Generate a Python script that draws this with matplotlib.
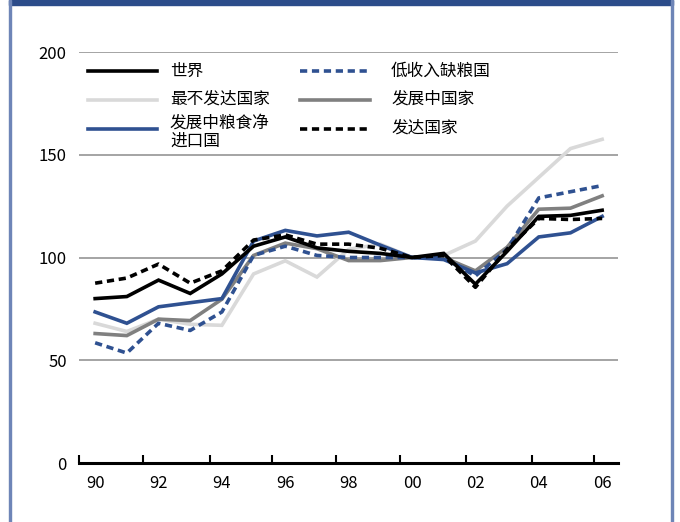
import matplotlib
matplotlib.use("Agg")
import matplotlib.pyplot as plt
from matplotlib.patches import Rectangle

plt.rcParams['font.family'] = ['Noto Sans CJK SC', 'DejaVu Sans']

years = list(range(1990, 2007))
xtick_years = [1990, 1992, 1994, 1996, 1998, 2000, 2002, 2004, 2006]
xtick_labels = ['90', '92', '94', '96', '98', '00', '02', '04', '06']
yticks = [0, 50, 100, 150, 200]

world = [80, 81, 89, 82.5, 92, 105.5, 110, 104.7, 103, 102, 100, 102, 87, 103, 120, 120.5, 123]
ldc = [68, 64, 70, 67.5, 67, 92, 98.4, 90.5, 104, 106.5, 100, 101, 108, 125, 139, 153, 157.5]
nfidc = [73.5, 68, 76, 78, 80, 108, 113.2, 110.5, 112.3, 106, 100, 99, 92.5, 97, 110, 112, 120]
lifdc = [58.5, 53.5, 68, 64.5, 73.5, 101, 105.5, 101, 100, 100, 100, 100, 91, 104, 129, 132, 135]
developing = [63, 62, 70, 69.3, 79.7, 101, 107, 104.3, 98.5, 98.5, 100, 100, 93.5, 105, 123.5, 124, 130]
developed = [87.5, 90, 96.8, 87.5, 93.5, 108.5, 111, 106.5, 106.5, 104.5, 100, 101, 85.5, 104, 119, 118.5, 119]

labels = ['世界', '最不发达国家', '发展中粮食净\n进口国', '低收入缺粮国', '发展中国家', '发达国家']

BLUE = '#2F5191'
LGRAY = '#D9D9D9'
MGRAY = '#808080'

fig = plt.figure(figsize=(6.8, 5.22), dpi=100)
AX_L, AX_R, AX_T, AX_B = 79.3, 618.0, 52.0, 463.0
ax = fig.add_axes([AX_L / 680, 1 - AX_B / 522, (AX_R - AX_L) / 680, (AX_B - AX_T) / 522])

lw = 2.6
dash = (2.0, 1.3)
styles = {
    'world': dict(color='black', lw=lw, solid_joinstyle='miter'),
    'ldc': dict(color=LGRAY, lw=lw, solid_joinstyle='miter'),
    'nfidc': dict(color=BLUE, lw=lw, solid_joinstyle='miter'),
    'lifdc': dict(color=BLUE, lw=lw, dashes=dash),
    'developing': dict(color=MGRAY, lw=lw, solid_joinstyle='miter'),
    'developed': dict(color='black', lw=lw, dashes=dash),
}
ax.plot(years, ldc, **styles['ldc'])
ax.plot(years, developing, **styles['developing'])
ax.plot(years, nfidc, **styles['nfidc'])
ax.plot(years, lifdc, **styles['lifdc'])
ax.plot(years, developed, **styles['developed'])
ax.plot(years, world, **styles['world'])

ax.set_xlim(1989.5, 2006.5)
ax.set_ylim(0, 200)
ax.set_yticks(yticks)
ax.set_yticklabels([str(v) for v in yticks])
ax.set_xticks(xtick_years)
ax.set_xticklabels(xtick_labels)
tick_marks = [1989.5, 1991.5, 1993.63, 1995.58, 1997.6, 1999.62, 2001.69, 2003.78, 2005.74]
ax.set_xticks(tick_marks, minor=True)
ax.tick_params(axis='x', which='major', length=0, pad=9, labelsize=12)
ax.tick_params(axis='x', which='minor', direction='in', length=6, width=1.5, color='black')
ax.tick_params(axis='y', length=0, pad=9, labelsize=12)

for v in yticks[1:]:
    ax.axhline(v, color='#8C8C8C', lw=1.1, zorder=0)

for s in ['top', 'right', 'left']:
    ax.spines[s].set_visible(False)
ax.spines['bottom'].set_linewidth(2.2)
ax.spines['bottom'].set_color('black')

# manual legend in axes coordinates (pixel layout of the reference)
W = AX_R - AX_L
H = AX_B - AX_T
def axx(px):
    return (px - AX_L) / W
def axy(py):
    return (AX_B - py) / H

legend_items = [
    (labels[0], 'world', 88, 157, 170, 71),
    (labels[1], 'ldc', 88, 157, 170, 99.5),
    (labels[2], 'nfidc', 88, 157, 170, 128.5),
    (labels[3], 'lifdc', 300, 370, 391, 71),
    (labels[4], 'developing', 300, 370, 391, 99.5),
    (labels[5], 'developed', 300, 370, 391, 128.5),
]
for text, key, x0, x1, tx, py in legend_items:
    ax.plot([axx(x0), axx(x1)], [axy(py), axy(py)], transform=ax.transAxes,
            clip_on=False, **styles[key])
    ty = py + 3.5 if '\n' in text else py
    ax.text(axx(tx), axy(ty), text, transform=ax.transAxes, fontsize=12,
            va='center', ha='left', linespacing=1.05)

# frame decorations
fig.patches.append(Rectangle((9/680, 1 - 5/522), 664/680, 5/522, transform=fig.transFigure,
                             color='#2C4C8A', zorder=5))
fig.patches.append(Rectangle((9/680, 0), 2/680, 1, transform=fig.transFigure,
                             color='#6E85B7', zorder=5))
fig.patches.append(Rectangle((671/680, 0), 2/680, 1, transform=fig.transFigure,
                             color='#6E85B7', zorder=5))

fig.savefig('out.png', dpi=100)
